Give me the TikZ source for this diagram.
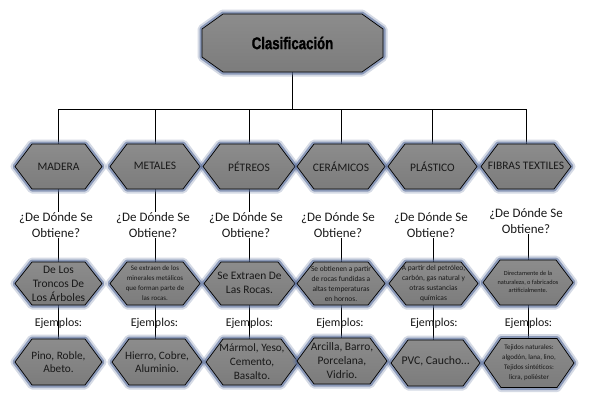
\documentclass[tikz,border=0pt]{standalone}
\usepackage{fontspec}
\setmainfont{Carlito}
\newfontfamily\titlefont[FakeStretch=0.78,FakeBold=1.2]{Liberation Sans}
\pgfdeclarelayer{bg}
\pgfsetlayers{bg,main}
\definecolor{glow}{RGB}{90,110,155}
\definecolor{hextop}{RGB}{140,140,140}
\definecolor{hexbot}{RGB}{124,124,124}
\definecolor{txtc}{RGB}{25,25,25}
\tikzset{
  hexshape/.style={draw=black, line width=0.7bp, line join=miter, top color=hextop, bottom color=hexbot,
     preaction={draw=glow, line width=9bp, draw opacity=0.25, line join=round},
     preaction={draw=glow, line width=5bp, draw opacity=0.6, line join=round}},
  lbl/.style={inner sep=0.5bp, align=center, text=txtc},
  conn/.style={draw=black, line width=0.75bp},
  big/.style={font=\fontsize{11.5}{14}\selectfont},
  ques/.style={lbl, font=\fontsize{13}{16}\selectfont},
  ejem/.style={lbl, font=\fontsize{12}{14}\selectfont},
  tiny/.style={font=\fontsize{7}{10}\selectfont},
}
\newcommand\hexbox[7][]{%
  \path[hexshape] ({#3-#5/2},{#4}) -- ({#3-#5/2+17},{#4-#6/2}) -- ({#3+#5/2-17},{#4-#6/2}) -- ({#3+#5/2},{#4}) -- ({#3+#5/2-17},{#4+#6/2}) -- ({#3-#5/2+17},{#4+#6/2}) -- cycle;
  \node[lbl, minimum width=#5bp, minimum height=#6bp, #1] (#2) at (#3,#4) {#7};}
\begin{document}
\begin{tikzpicture}[x=1bp,y=-1bp]
\begin{pgfonlayer}{bg}
\fill[white] (0,0) rectangle (590,410);
\end{pgfonlayer}
\useasboundingbox (0,0) rectangle (590,410);
% title
\path[hexshape] (202,29) -- (223,14) -- (362,14) -- (383,29) -- (383,57) -- (362,72) -- (223,72) -- (202,57) -- cycle;
\node[lbl, text=black, font=\titlefont\bfseries\fontsize{17}{20}\selectfont, minimum width=181bp, minimum height=58bp] (top) at (292.5,43) {Clasificación};
% row 1
\hexbox[big]{mad1}{58.5}{166.5}{87}{45}{MADERA}
\hexbox[big]{met1}{155}{166.5}{90}{45}{\raisebox{1.5bp}{METALES}}
\hexbox[big]{pet1}{249}{166.5}{92}{45}{PÉTREOS}
\hexbox[big]{cer1}{341}{166.5}{88}{45}{CERÁMICOS}
\hexbox[big]{pla1}{432.5}{166.5}{89}{45}{PLÁSTICO}
\hexbox[big]{fib1}{526}{166.5}{90}{45}{\raisebox{2bp}{FIBRAS TEXTILES}}
% questions
\node[ques] (madq) at (56,225) {¿De Dónde Se\\Obtiene?};
\node[ques] (metq) at (153,225) {¿De Dónde Se\\Obtiene?};
\node[ques] (petq) at (246,225) {¿De Dónde Se\\Obtiene?};
\node[ques] (cerq) at (338,225) {¿De Dónde Se\\Obtiene?};
\node[ques] (plaq) at (431,225) {¿De Dónde Se\\Obtiene?};
\node[ques] (fibq) at (526,221) {¿De Dónde Se\\Obtiene?};
% row 2
\hexbox[big]{mad2}{58.5}{283.5}{87}{43}{De Los\\Troncos De\\Los Árboles}
\hexbox[tiny]{met2}{155}{283.5}{90}{43}{Se extraen de los\\minerales metálicos\\que forman parte de\\las rocas.}
\hexbox[big]{pet2}{249.5}{283.5}{91}{43}{\raisebox{3bp}{\begin{tabular}{@{}c@{}}Se Extraen De\\Las Rocas.\end{tabular}}}
\hexbox[font=\fontsize{7.5}{10}\selectfont]{cer2}{341}{283.5}{88}{43}{Se obtienen a partir\\de rocas fundidas a\\altas temperaturas\\en hornos.}
\hexbox[font=\fontsize{7.5}{10}\selectfont]{pla2}{433.5}{283.5}{89}{43}{A partir del petróleo,\\carbón, gas natural y\\otras sustancias\\químicas}
\hexbox[font=\fontsize{6.3}{8.7}\selectfont]{fib2}{528}{282.5}{90}{45}{\raisebox{6bp}{\begin{tabular}{@{}c@{}}Directamente de la\\naturaleza, o fabricados\\artificialmente.\end{tabular}}}
% ejemplos
\node[ejem] (madE) at (58.5,323) {Ejemplos:};
\node[ejem] (metE) at (154.5,323) {Ejemplos:};
\node[ejem] (petE) at (249.5,323) {Ejemplos:};
\node[ejem] (cerE) at (340,323) {Ejemplos:};
\node[ejem] (plaE) at (434,323) {Ejemplos:};
\node[ejem] (fibE) at (528.5,323) {Ejemplos:};
% row 3
\hexbox[font=\fontsize{11.3}{13}\selectfont]{mad3}{58.5}{362}{87}{46}{Pino, Roble,\\Abeto.}
\hexbox[font=\fontsize{11.3}{13}\selectfont]{met3}{157}{362}{90}{46}{Hierro, Cobre,\\Aluminio.}
\hexbox[font=\fontsize{11.3}{14}\selectfont]{pet3}{252}{362}{92}{46}{Mármol, Yeso,\\Cemento,\\Basalto.}
\hexbox[font=\fontsize{11.5}{14}\selectfont]{cer3}{342}{361}{90}{46}{Arcilla, Barro,\\Porcelana,\\Vidrio.}
\hexbox[font=\fontsize{11.8}{14}\selectfont]{pla3}{435.5}{363}{89}{46}{\raisebox{5bp}{PVC, Caucho…}}
\hexbox[tiny]{fib3}{529}{363}{90}{49}{Tejidos naturales:\\algodón, lana, lino,\\Tejidos sintéticos:\\licra, poliéster}
% connectors
\begin{pgfonlayer}{bg}
\coordinate (bus) at (292.5,109);
\draw[conn] (top.south) -- (bus);
\foreach \n in {mad1,met1,pet1,cer1,pla1,fib1} \draw[conn] (\n.north) |- (bus);
\foreach \n in {mad,met,pet} \draw[conn] (\n1.south) -- (\n1.south |- \n q.north);
\foreach \n in {mad,met,pet,cer,pla,fib} {
  \draw[conn] (\n 2.north) -- (\n 2.north |- \n q.south);
  \draw[conn] (\n 2.south) -- (\n 2.south |- \n 3.north);
}
\end{pgfonlayer}
\end{tikzpicture}
\end{document}
